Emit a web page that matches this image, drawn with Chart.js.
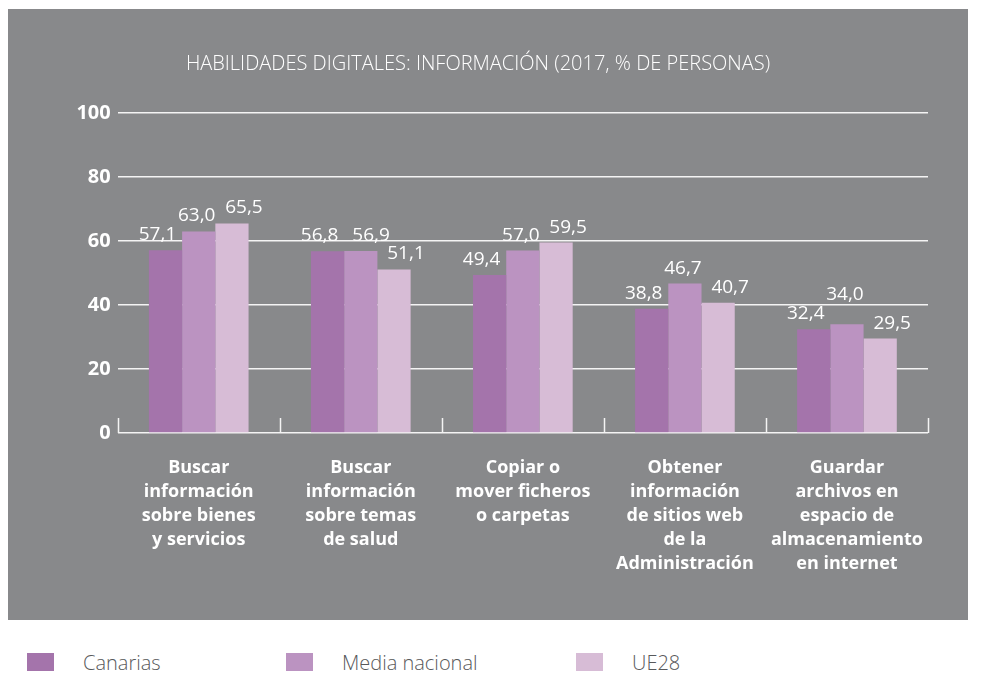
<!DOCTYPE html>
<html>
<head>
<meta charset="utf-8">
<script src="https://cdn.jsdelivr.net/npm/chart.js@4"></script>
<style>
  body { margin:0; background:#fff; width:983px; height:674px; position:relative; overflow:hidden; font-family:"Open Sans", sans-serif; }
  #panel { position:absolute; left:8px; top:9px; width:960px; height:611px; background:#88898b; }
  .lg { position:absolute; top:653px; font-size:20px; font-weight:300; line-height:20px; color:#58595b; }
  .sq { position:absolute; top:653px; width:27px; height:18px; }
</style>
</head>
<body>
<div id="panel"><canvas id="chart" width="960" height="611"></canvas></div>
<div id="legend"></div>
<script>
const title = "HABILIDADES DIGITALES: INFORMACIÓN (2017, % DE PERSONAS)";
const categories = [
  ["Buscar", "información", "sobre bienes", "y servicios"],
  ["Buscar", "información", "sobre temas", "de salud"],
  ["Copiar o", "mover ficheros", "o carpetas"],
  ["Obtener", "información", "de sitios web", "de la", "Administración"],
  ["Guardar", "archivos en", "espacio de", "almacenamiento", "en internet"]
];
const seriesNames = ["Canarias", "Media nacional", "UE28"];
const canarias = [57.1, 56.8, 49.4, 38.8, 32.4];
const mediaNacional = [63.0, 56.9, 57.0, 46.7, 34.0];
const ue28 = [65.5, 51.1, 59.5, 40.7, 29.5];
const yTicks = [0, 20, 40, 60, 80, 100];
const colors = ["#a474ab", "#bb93c1", "#d7bcd6"];

const fmt = v => v.toFixed(1).replace(".", ",");

// legend (outside the gray panel)
const legendX = [27, 286, 576];
const lg = document.getElementById("legend");
seriesNames.forEach((n, i) => {
  const sq = document.createElement("div");
  sq.className = "sq"; sq.style.left = legendX[i] + "px"; sq.style.background = colors[i];
  const t = document.createElement("div");
  t.className = "lg"; t.style.left = (legendX[i] + 56) + "px"; t.textContent = n;
  lg.appendChild(sq); lg.appendChild(t);
});

// title, a bit left of the plot centre like the original
const titlePlugin = {
  id: "titlePlugin",
  afterDraw(chart){
    const ctx = chart.ctx;
    ctx.save();
    ctx.font = "300 20px 'Open Sans'";
    ctx.fillStyle = "#ffffff";
    ctx.textAlign = "center";
    ctx.textBaseline = "middle";
    ctx.fillText(title, 470, 55);
    ctx.restore();
  }
};

// short white marks between the categories
const sepMarks = {
  id: "sepMarks",
  afterDraw(chart){
    const {ctx, chartArea} = chart;
    const xs = chart.scales.x;
    ctx.save();
    ctx.strokeStyle = "#f4f4f4";
    ctx.lineWidth = 1.5;
    for (let i = 0; i <= categories.length; i++){
      const x = Math.round(xs.getPixelForValue(i - 0.5)) + 0.5;
      ctx.beginPath();
      ctx.moveTo(x, chartArea.bottom - 15);
      ctx.lineTo(x, chartArea.bottom);
      ctx.stroke();
    }
    ctx.restore();
  }
};

// value labels, nudged so they don't collide
const valueLabels = {
  id: "valueLabels",
  afterDatasetsDraw(chart){
    const ctx = chart.ctx;
    const dx = [-8, -2, 12];
    const h = 13;
    ctx.save();
    ctx.font = "400 19px 'Open Sans'";
    ctx.fillStyle = "#ffffff";
    ctx.textAlign = "center";
    ctx.textBaseline = "alphabetic";
    for (let i = 0; i < categories.length; i++){
      let prev = null;
      chart.data.datasets.forEach((ds, d) => {
        const bar = chart.getDatasetMeta(d).data[i];
        const txt = fmt(ds.data[i]);
        const w = ctx.measureText(txt).width;
        let x = bar.x + dx[d];
        let y = bar.y - 10;
        if (prev){
          const hOver = (x - w/2) < prev.r + 6;
          const vOver = (y - h) < prev.b && y > prev.t;
          if (hOver && vOver){
            if (Math.abs(bar.y - prev.barY) < 3) x = prev.r + 14 + w/2;
            else y = prev.t - 6;
          }
        }
        ctx.fillText(txt, x, y);
        prev = {l: x - w/2, r: x + w/2, t: y - h, b: y, barY: bar.y};
      });
    }
    ctx.restore();
  }
};

new Chart(document.getElementById("chart"), {
  type: "bar",
  data: {
    labels: categories,
    datasets: [
      {label: seriesNames[0], data: canarias, backgroundColor: colors[0]},
      {label: seriesNames[1], data: mediaNacional, backgroundColor: colors[1]},
      {label: seriesNames[2], data: ue28, backgroundColor: colors[2]}
    ]
  },
  options: {
    responsive: false,
    animation: false,
    events: [],
    layout: {padding: {left: 0, right: 40, top: 104, bottom: 0}},
    datasets: {bar: {categoryPercentage: 0.615, barPercentage: 1.0, borderWidth: 0}},
    plugins: {
      legend: {display: false},
      tooltip: {enabled: false},
      title: {display: false}
    },
    scales: {
      x: {
        offset: true,
        grid: {display: false, drawTicks: false},
        border: {display: false},
        ticks: {
          color: "#ffffff",
          padding: 23,
          maxRotation: 0,
          autoSkip: false,
          font: {family: "'Open Sans'", size: 18, weight: "bold", lineHeight: "24px"}
        },
        afterFit(s){ s.height = 187; }
      },
      y: {
        min: 0, max: 100,
        afterBuildTicks(s){ s.ticks = yTicks.map(v => ({value: v})); },
        grid: {color: "#f4f4f4", lineWidth: 1.5, drawTicks: false},
        border: {display: false},
        ticks: {
          color: "#ffffff",
          padding: 7,
          font: {family: "'Open Sans'", size: 20, weight: "bold"}
        },
        afterFit(s){ s.width = 109.7; }
      }
    }
  },
  plugins: [sepMarks, valueLabels, titlePlugin]
});
</script>
</body>
</html>
